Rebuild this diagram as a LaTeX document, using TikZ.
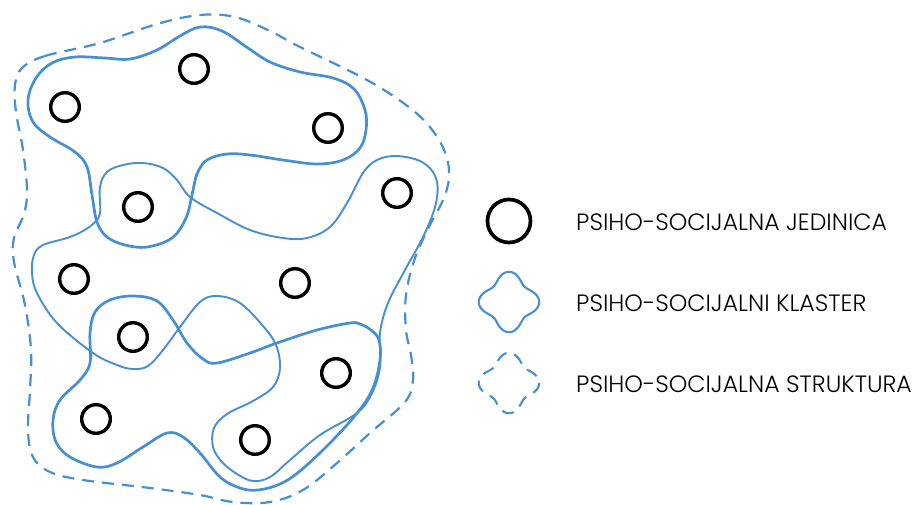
\documentclass[tikz,border=0pt]{standalone}
\usepackage{fontspec}
\setmainfont{Poppins}[UprightFont={* Light}]
\definecolor{clusterblue}{RGB}{70,143,210}
\begin{document}
\begin{tikzpicture}[x=1pt,y=-1pt,
  unit/.style={circle,draw=black,line width=3.4pt,minimum size=28.6pt,inner sep=0pt},
  cluster/.style={draw=clusterblue,line width=2.7pt,line join=round},
  thincluster/.style={draw=clusterblue,line width=1.9pt,line join=round},
  structure/.style={draw=clusterblue,line width=2.2pt,dash pattern=on 12pt off 8pt},
  legendtext/.style={anchor=base west,inner sep=0pt,font=\fontsize{23.6}{23.6}\selectfont}]
\useasboundingbox (0,0) rectangle (915,504);

% psycho-social structure (dashed outline)
\draw[structure] plot[smooth cycle,tension=0.6] coordinates {(22,68) (45,56) (100,43) (157,24) (200,15) (235,17) (270,31) (300,47) (367,80) (410,108) (433,131) (446,155) (449,178) (443,200) (430,225) (415,258) (406,295) (406,330) (411,355) (413,380) (405,402) (370,433) (337,463) (303,490) (270,502) (233,502) (200,495) (150,488) (83,480) (50,472) (33,457) (28,430) (30,390) (31,350) (25,305) (14,262) (14,238) (24,214) (27,190) (23,150) (16,112) (15,85)};

% top cluster
\draw[cluster] plot[smooth cycle,tension=0.6] coordinates {(28,100) (36,78) (52,63) (75,57) (105,58) (130,59) (157,50) (180,36) (200,27) (222,31) (248,48) (270,62) (300,72) (333,78) (354,89) (365,110) (366,130) (360,148) (343,160) (317,164) (283,160) (250,155) (227,154) (207,160) (197,174) (192,195) (186,218) (172,238) (147,247) (125,245) (107,237) (97,222) (92,195) (87,167) (75,152) (50,137) (33,122)};

% winding middle cluster
\draw[thincluster] plot[smooth cycle,tension=0.6] coordinates {(100,213) (100,187) (107,172) (123,165) (143,163) (163,168) (177,180) (190,197) (217,213) (250,230) (283,238) (307,238) (330,227) (347,203) (363,173) (377,160) (397,156) (422,162) (436,178) (436,203) (424,235) (405,270) (388,303) (380,333) (380,367) (372,393) (357,413) (320,435) (290,460) (270,477) (253,481) (237,474) (222,462) (213,447) (214,428) (227,414) (253,401) (273,387) (280,368) (276,345) (263,326) (240,303) (217,296) (200,302) (180,327) (163,350) (148,366) (133,369) (117,365) (93,353) (57,323) (37,293) (32,273) (34,255) (43,245) (67,238) (83,231) (94,223)};

% bottom cluster
\draw[cluster] plot[smooth cycle,tension=0.6] coordinates {(350,323) (317,330) (277,343) (250,353) (217,363) (203,359) (187,343) (173,320) (157,301) (133,296) (110,300) (95,312) (90,333) (90,363) (80,380) (60,400) (53,420) (56,442) (70,457) (97,467) (117,463) (143,447) (167,433) (183,437) (200,453) (220,477) (240,488) (258,490) (280,484) (300,471) (330,443) (358,412) (373,388) (380,360) (379,340) (371,330) (360,324)};

% psycho-social units
\node[unit] (u1) at (194,69) {};
\node[unit] (u2) at (65,107) {};
\node[unit] (u3) at (328,128) {};
\node[unit] (u4) at (138,207) {};
\node[unit] (u5) at (397,193) {};
\node[unit] (u6) at (74,279) {};
\node[unit] (u7) at (295,283) {};
\node[unit] (u8) at (133,337) {};
\node[unit] (u9) at (336,373) {};
\node[unit] (u10) at (96,419) {};
\node[unit] (u11) at (255,440) {};

% legend
\node[unit,minimum size=43pt,line width=3.7pt] (legunit) at (509,221) {};
\draw[cluster,line width=2.1pt,shift={(509,302)}] plot[domain=0:360,samples=145] (\x:{26+4.2*cos(4*\x)}) -- cycle;
\draw[structure,line width=2.1pt,shift={(509,383)}] plot[domain=0:360,samples=145] (\x:{26+4.2*cos(4*\x)}) -- cycle;
\node[legendtext] (t1) at (576,230) {PSIHO-SOCIJALNA JEDINICA};
\node[legendtext] (t2) at (576,311) {PSIHO-SOCIJALNI KLASTER};
\node[legendtext] (t3) at (576,392) {PSIHO-SOCIJALNA STRUKTURA};
\end{tikzpicture}
\end{document}
